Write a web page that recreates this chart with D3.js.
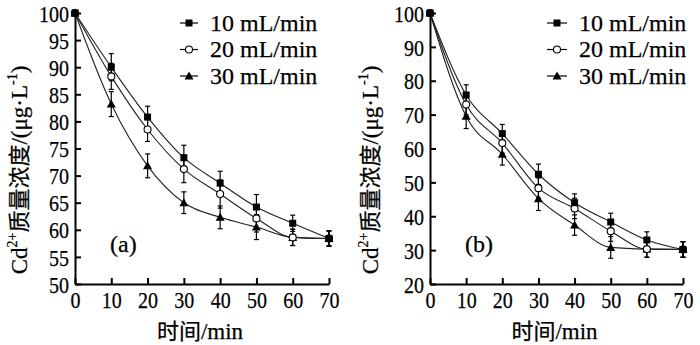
<!DOCTYPE html>
<html><head><meta charset="utf-8">
<script src="https://cdn.jsdelivr.net/npm/d3@7/dist/d3.min.js"></script>
<style>
html,body{margin:0;padding:0;background:#fff;}
text{font-family:"Liberation Serif","Noto Sans CJK SC",serif;fill:#000;stroke:#000;stroke-width:0.25px;}
</style></head>
<body><svg id="c" width="700" height="345"></svg>
<script>
const times = [0,10,20,30,40,50,60,70];
const seriesNames = ["10 mL/min","20 mL/min","30 mL/min"];
// panel (a)
const aFlow10 = [100, 90.0, 80.8, 73.3, 68.6, 64.2, 61.2, 58.4];
const aFlow20 = [100, 88.3, 78.5, 71.2, 66.6, 62.1, 58.6, 58.4];
const aFlow30 = [100, 83.2, 71.8, 65.0, 62.3, 60.5, 58.6, 58.4];
const aErr10 = [0, 2.5, 2.0, 2.3, 2.2, 2.3, 1.5, 1.4];
const aErr20 = [0, 2.4, 2.2, 2.5, 2.6, 2.5, 1.5, 1.4];
const aErr30 = [0, 2.3, 2.2, 2.0, 2.1, 2.3, 1.5, 1.4];
// panel (b)
const bFlow10 = [100, 75.8, 64.4, 52.4, 44.0, 38.3, 33.0, 30.2];
const bFlow20 = [100, 73.0, 61.6, 48.3, 42.3, 35.6, 30.3, 30.2];
const bFlow30 = [100, 69.5, 58.3, 45.2, 37.4, 30.8, 30.3, 30.2];
const bErr10 = [0, 3.0, 2.7, 3.0, 2.6, 2.6, 2.4, 2.3];
const bErr20 = [0, 3.0, 3.0, 3.0, 3.0, 3.0, 2.4, 2.3];
const bErr30 = [0, 3.6, 3.2, 3.5, 3.0, 3.2, 2.4, 2.3];
const xTicks = [0,10,20,30,40,50,60,70];
const aYTicks = [50,55,60,65,70,75,80,85,90,95,100];
const bYTicks = [20,30,40,50,60,70,80,90,100];

const svg = d3.select("#c");

function panel(o){
  const x = d3.scaleLinear().domain([0,70]).range([o.x0,o.x1]);
  const y = d3.scaleLinear().domain(o.yDom).range([284,13]);
  const g = svg.append("g");
  const ya = g.append("g").attr("transform",`translate(${o.x0},0)`)
    .call(d3.axisLeft(y).tickValues(o.yTicks).tickSizeInner(-6).tickSizeOuter(0).tickPadding(6));
  const xa = g.append("g").attr("transform",`translate(0,284)`)
    .call(d3.axisBottom(x).tickValues(xTicks).tickSizeInner(-6).tickSizeOuter(0).tickPadding(7));
  [ya,xa].forEach(a=>{
    a.select(".domain").attr("stroke","#000").attr("stroke-width",2);
    a.selectAll(".tick line").attr("stroke","#000").attr("stroke-width",2);
    a.selectAll(".tick text").attr("font-size",24)
      .each(function(){const t=d3.select(this);const n=t.text().length;t.attr("textLength",n*10).attr("lengthAdjust","spacingAndGlyphs");});
  });
  ya.selectAll(".tick text").attr("dy","0.34em");
  xa.selectAll(".tick text").attr("dy","0.71em");
  // y axis label
  const yl = g.append("text").attr("transform",`translate(${o.x0-o.ylOff},170) rotate(-90)`)
    .attr("text-anchor","middle").attr("font-size",23);
  yl.append("tspan").text("Cd");
  yl.append("tspan").attr("font-size",14).attr("dy",-10).text("2+");
  yl.append("tspan").attr("dy",10).attr("font-family","Noto Sans CJK SC").attr("font-size",22).text("质量浓度");
  yl.append("tspan").text("/(μg·L");
  yl.append("tspan").attr("font-size",14).attr("dy",-10).text("-1");
  yl.append("tspan").attr("dy",10).text(")");
  // x label
  const xl = g.append("text").attr("x",(o.x0+o.x1)/2-2).attr("y",339).attr("text-anchor","middle").attr("font-size",23);
  xl.append("tspan").attr("font-family","Noto Sans CJK SC").attr("font-size",22).text("时间");
  xl.append("tspan").text("/min");
  // panel label
  g.append("text").attr("x",o.x0+35).attr("y",252).attr("font-size",24).text(o.tag);

  const line = d3.line().x((d,i)=>x(times[i])).y(d=>y(d)).curve(d3.curveMonotoneX);
  o.series.forEach(s=>{
    g.append("path").attr("d",line(s.v)).attr("fill","none").attr("stroke","#222").attr("stroke-width",1.1);
  });
  o.series.forEach(s=>{
    s.v.forEach((v,i)=>{
      if(!s.e[i]) return;
      const cx=x(times[i]);
      const eg=g.append("g").attr("stroke","#000").attr("stroke-width",1.2);
      eg.append("line").attr("x1",cx).attr("x2",cx).attr("y1",y(v-s.e[i])).attr("y2",y(v+s.e[i]));
      [v-s.e[i],v+s.e[i]].forEach(w=>eg.append("line").attr("x1",cx-2.5).attr("x2",cx+2.5).attr("y1",y(w)).attr("y2",y(w)));
    });
  });
  function marker(sel,type,cx,cy){
    if(type==="square") sel.append("rect").attr("x",cx-3.5).attr("y",cy-3.5).attr("width",7).attr("height",7).attr("fill","#000");
    else if(type==="circle") sel.append("circle").attr("cx",cx).attr("cy",cy).attr("r",3.5).attr("fill","#fff").attr("stroke","#000").attr("stroke-width",1.1);
    else sel.append("path").attr("d",`M${cx},${cy-4.5}L${cx+4.5},${cy+3.5}L${cx-4.5},${cy+3.5}Z`).attr("fill","#000");
  }
  o.series.slice().reverse().forEach(s=>{
    s.v.forEach((v,i)=>marker(g,s.m,x(times[i]),y(v)));
  });
  o.series.forEach((s,k)=>{
    const ly=23+k*26.5;
    g.append("line").attr("x1",o.lx).attr("x2",o.lx+o.lw).attr("y1",ly).attr("y2",ly).attr("stroke","#000").attr("stroke-width",1.2);
    marker(g,s.m,o.lx+o.lw/2,ly);
    g.append("text").attr("x",o.lx+o.lw+12).attr("y",ly).attr("dy","0.33em").attr("font-size",24).text(seriesNames[k]);
  });
}

panel({x0:75,x1:329,yDom:[50,100],yTicks:aYTicks,tag:"(a)",lx:180,lw:18,ylOff:48,
  series:[{v:aFlow10,e:aErr10,m:"square"},{v:aFlow20,e:aErr20,m:"circle"},{v:aFlow30,e:aErr30,m:"tri"}]});
panel({x0:430,x1:683,yDom:[20,100],yTicks:bYTicks,tag:"(b)",lx:547,lw:20,ylOff:52,
  series:[{v:bFlow10,e:bErr10,m:"square"},{v:bFlow20,e:bErr20,m:"circle"},{v:bFlow30,e:bErr30,m:"tri"}]});
</script></body></html>
